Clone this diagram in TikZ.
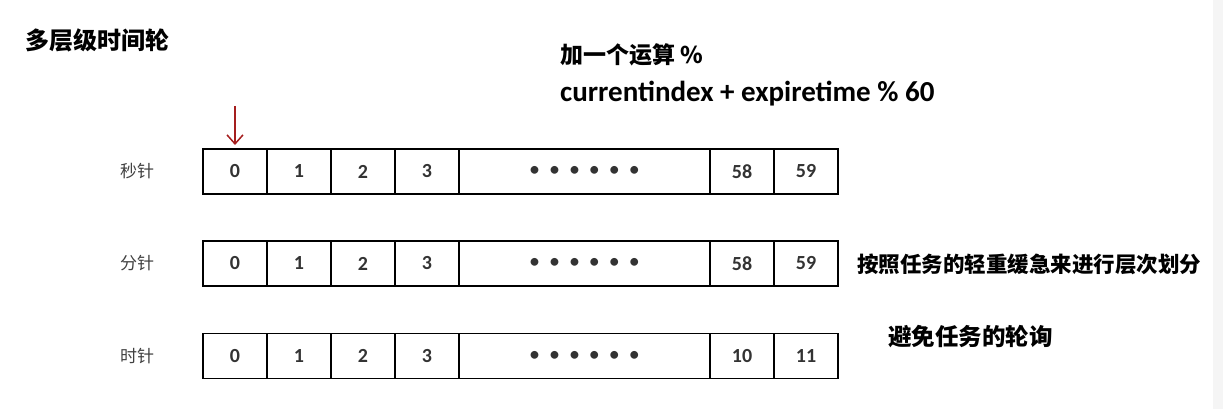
\documentclass[tikz,border=0pt]{standalone}
\usepackage{fontspec}
\setmainfont{Carlito}
\newfontfamily\cjk{Noto Sans CJK SC}
\usepackage{tikz}
\usetikzlibrary{arrows.meta,positioning}
\definecolor{ptrred}{RGB}{165,30,30}

\begin{document}
\begin{tikzpicture}[
    x=1pt, y=-1pt,
    cell/.style={draw, line width=1.5pt, minimum width=64pt, minimum height=45pt, inner sep=0pt, outer sep=0pt, font=\fontsize{20}{20}\selectfont\bfseries, text=black!80},
    dotcell/.style={cell, minimum width=251pt, font=\fontsize{22}{22}\selectfont},
    hand/.style={font=\cjk\fontsize{17}{17}\selectfont, text=black!75},
    note/.style={anchor=west, inner sep=0pt, font=\cjk\fontsize{23.5}{23.5}\selectfont\bfseries},
    >={Straight Barb[length=9pt,width=16pt,line width=1.5pt]}
]
    \useasboundingbox (0,0) rectangle (1223,409);
    \fill[gray!8] (1213,0) rectangle (1223,409);

    % Title
    \node[note, font=\cjk\fontsize{24}{24}\selectfont\bfseries] (title) at (25,40) {多层级时间轮};

    % Formula
    \node[note, font=\cjk\fontsize{23}{23}\selectfont\bfseries] (op) at (560,55) {加一个运算 \%};
    \node[note, font=\fontsize{29}{29}\selectfont\bfseries] (formula) at (560,94) {currentindex + expiretime \% 60};

    % Seconds
    \node[hand] (sec) at (137,171.5) {秒针};
    \node[cell] (s0) at (235,171.5) {0};
    \node[cell, right=0pt of s0] (s1) {1};
    \node[cell, right=0pt of s1] (s2) {2};
    \node[cell, right=0pt of s2] (s3) {3};
    \node[dotcell, right=0pt of s3] (sd) {\textbullet\hspace{9pt}\textbullet\hspace{9pt}\textbullet\hspace{9pt}\textbullet\hspace{9pt}\textbullet\hspace{9pt}\textbullet};
    \node[cell, right=0pt of sd] (s58) {58};
    \node[cell, right=0pt of s58] (s59) {59};

    % Minutes
    \node[hand] (min) at (137,263.5) {分针};
    \node[cell] (m0) at (235,263.5) {0};
    \node[cell, right=0pt of m0] (m1) {1};
    \node[cell, right=0pt of m1] (m2) {2};
    \node[cell, right=0pt of m2] (m3) {3};
    \node[dotcell, right=0pt of m3] (md) {\textbullet\hspace{9pt}\textbullet\hspace{9pt}\textbullet\hspace{9pt}\textbullet\hspace{9pt}\textbullet\hspace{9pt}\textbullet};
    \node[cell, right=0pt of md] (m58) {58};
    \node[cell, right=0pt of m58] (m59) {59};

    % Hours
    \node[hand] (hour) at (137,356) {时针};
    \node[cell] (h0) at (235,356) {0};
    \node[cell, right=0pt of h0] (h1) {1};
    \node[cell, right=0pt of h1] (h2) {2};
    \node[cell, right=0pt of h2] (h3) {3};
    \node[dotcell, right=0pt of h3] (hd) {\textbullet\hspace{9pt}\textbullet\hspace{9pt}\textbullet\hspace{9pt}\textbullet\hspace{9pt}\textbullet\hspace{9pt}\textbullet};
    \node[cell, right=0pt of hd] (h10) {10};
    \node[cell, right=0pt of h10] (h11) {11};

    % Pointer
    \coordinate (ptr) at (235,106);
    \draw[->, ptrred, line width=1.5pt, shorten >=4pt] (ptr) -- (s0.north);

    % Notes
    \node[note, font=\cjk\fontsize{21.5}{21.5}\selectfont\bfseries] (levels) at (857,264) {按照任务的轻重缓急来进行层次划分};
    \node[note] (poll) at (888,337) {避免任务的轮询};
\end{tikzpicture}
\end{document}
